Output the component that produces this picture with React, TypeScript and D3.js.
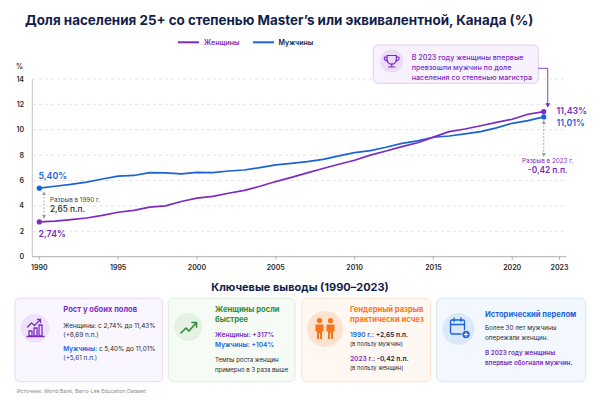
import React from "react";
import * as d3 from "d3";

const years = d3.range(1990, 2023);
const women = [2.74, 2.8, 2.92, 3.05, 3.25, 3.5, 3.65, 3.9, 4.0, 4.35, 4.62, 4.75, 5.0, 5.22, 5.55, 5.92, 6.25, 6.6, 6.95, 7.28, 7.6, 8.0, 8.33, 8.67, 8.98, 9.42, 9.85, 10.06, 10.32, 10.58, 10.83, 11.22, 11.43];
const men = [5.4, 5.55, 5.7, 5.88, 6.12, 6.35, 6.4, 6.62, 6.6, 6.52, 6.65, 6.62, 6.75, 6.83, 7.02, 7.23, 7.36, 7.49, 7.67, 7.94, 8.2, 8.36, 8.62, 8.93, 9.12, 9.41, 9.51, 9.67, 9.85, 10.15, 10.51, 10.72, 11.01];
const xTicks = [1990, 1995, 2000, 2005, 2010, 2015, 2020, 2023];
const yTicks = [0, 2, 4, 6, 8, 10, 12, 14];
const seriesNames = ["Женщины", "Мужчины"];

const PURPLE = "#7b2cbf";
const BLUE = "#1a63d8";
const NAVY = "#141e4a";
const GREEN = "#2f8a3c";
const ORANGE = "#f5761a";
const FONT = "Inter, 'Noto Sans', sans-serif";

export default function App() {
  const x = d3.scaleLinear().domain([1990, 2023]).range([39.3, 559.5]);
  const y = d3.scaleLinear().domain([0, 14]).range([256.7, 79]);
  const line = d3
    .line<number>()
    .x((_, i) => x(years[i]))
    .y((d) => y(d));

  const last = years.length - 1;
  const xl = x(years[last]);
  const yw = y(women[last]);
  const ym = y(men[last]);
  const x0 = x(years[0]);
  const yw0 = y(women[0]);
  const ym0 = y(men[0]);

  return (
    <div style={{ position: "absolute", left: 0, top: 0 }}>
      <svg width={600} height={400} style={{ display: "block", fontFamily: FONT }}>
        <defs>
          <marker id="arrP" viewBox="0 0 10 10" refX="5" refY="5" markerWidth="5" markerHeight="5" orient="auto">
            <path d="M0,0 L10,5 L0,10 z" fill={PURPLE} />
          </marker>
          <marker id="arrG" viewBox="0 0 10 10" refX="5" refY="5" markerWidth="5" markerHeight="5" orient="auto-start-reverse">
            <path d="M0,0 L10,5 L0,10 z" fill="#9a9a9a" />
          </marker>
        </defs>
        <rect width={600} height={400} fill="#ffffff" />
        {/* Title */}
        <text x={25} y={24.5} fontSize={13.4} fontWeight={700} fill={NAVY}>
          Доля населения 25+ со степенью Master’s или эквивалентной, Канада (%)
        </text>
        {/* Legend */}
        <line x1={178} x2={199} y1={42.3} y2={42.3} stroke={PURPLE} strokeWidth={2} />
        <text x={204} y={44.8} fontSize={7} fontWeight={600} fill={PURPLE}>{seriesNames[0]}</text>
        <line x1={253} x2={274} y1={42.3} y2={42.3} stroke={BLUE} strokeWidth={2} />
        <text x={278.5} y={44.8} fontSize={7} fontWeight={600} fill={NAVY}>{seriesNames[1]}</text>

        {/* Grid */}
        {yTicks.map((t) => (
          <g key={t}>
            {t > 0 && (
              <line x1={33} x2={566} y1={y(t)} y2={y(t)} stroke="#dedede" strokeWidth={0.8} strokeDasharray="3,3" />
            )}
            <text x={24} y={y(t) + 2.5} fontSize={7} fontWeight={600} fill="#2a2a2a" textAnchor="end">{t}</text>
          </g>
        ))}
        <text x={16} y={69} fontSize={7} fontWeight={600} fill="#2a2a2a">%</text>
        <line x1={32.3} x2={32.3} y1={y(14)} y2={y(0)} stroke="#b5b5b5" strokeWidth={0.8} />
        <line x1={32.3} x2={566.5} y1={y(0)} y2={y(0)} stroke="#9a9a9a" strokeWidth={0.8} />
        {xTicks.map((t) => (
          <g key={t}>
            <line x1={x(t)} x2={x(t)} y1={y(0)} y2={y(0) + 3} stroke="#9a9a9a" strokeWidth={0.8} />
            <text x={x(t)} y={269.5} fontSize={7} fontWeight={600} fill="#2a2a2a" textAnchor="middle">{t}</text>
          </g>
        ))}

        {/* Lines */}
        <path d={line(men) || ""} fill="none" stroke={BLUE} strokeWidth={1.7} strokeLinejoin="round" />
        <path d={line(women) || ""} fill="none" stroke={PURPLE} strokeWidth={1.7} strokeLinejoin="round" />
        <circle cx={x0} cy={ym0} r={2.6} fill={BLUE} />
        <circle cx={x0} cy={yw0} r={2.6} fill={PURPLE} />
        <circle cx={xl} cy={ym} r={2.6} fill={BLUE} />
        <circle cx={xl} cy={yw} r={2.6} fill={PURPLE} />

        {/* 1990 labels */}
        <text x={38.5} y={178.5} fontSize={8.8} fontWeight={600} fill={BLUE}>5,40%</text>
        <text x={38.5} y={237} fontSize={8.8} fontWeight={600} fill={PURPLE}>2,74%</text>
        <line x1={44} x2={44} y1={ym0 + 5} y2={yw0 - 5} stroke="#9a9a9a" strokeWidth={0.8} strokeDasharray="2,1.5" markerStart="url(#arrG)" markerEnd="url(#arrG)" />
        <text x={50} y={201.5} fontSize={6.3} fill="#444">Разрыв в 1990 г.</text>
        <text x={50} y={212} fontSize={8.3} fontWeight={500} fill="#2a2a2a">2,65 п.п.</text>

        {/* 2023 labels */}
        <text x={556.5} y={114.3} fontSize={8.8} fontWeight={600} fill={PURPLE}>11,43%</text>
        <text x={556.5} y={125.5} fontSize={8.8} fontWeight={600} fill={BLUE}>11,01%</text>
        <line x1={xl} x2={xl} y1={ym + 5} y2={155} stroke="#9a9a9a" strokeWidth={0.8} strokeDasharray="2,1.5" markerStart="url(#arrG)" markerEnd="url(#arrG)" />
        <text x={xl + 4} y={163.3} fontSize={6.3} fill={PURPLE} textAnchor="middle">Разрыв в 2023 г.</text>
        <text x={xl + 4} y={173} fontSize={8.3} fontWeight={600} fill={PURPLE} textAnchor="middle">-0,42 п.п.</text>

        {/* Annotation box */}
        <rect x={373.3} y={45} width={165} height={38.3} rx={4.5} fill="#f7f2fd" stroke="#dcc9f3" strokeWidth={0.9} />
        <circle cx={391.7} cy={61} r={11.5} fill="#ebdcfa" />
        <g fill="none" stroke={PURPLE} strokeWidth={1.2} strokeLinecap="round" strokeLinejoin="round">
          <path d="M387,55.5 h9.4 v4 a4.7,4.7 0 0 1 -9.4,0 z" />
          <path d="M387,57 h-2.2 a2.2,2.2 0 0 0 2.6,3.4" />
          <path d="M396.4,57 h2.2 a2.2,2.2 0 0 1 -2.6,3.4" />
          <path d="M391.7,64.2 v2.3 M388.6,67 h6.2" />
        </g>
        <text fontSize={7.2} fontWeight={500} fill={PURPLE}>
          <tspan x={411.7} y={59.5}>В 2023 году женщины впервые</tspan>
          <tspan x={411.7} y={69.8}>превзошли мужчин по доле</tspan>
          <tspan x={411.7} y={80.1}>населения со степенью магистра</tspan>
        </text>
        <path d={`M538.3,68.3 H${xl + 4} V${yw - 6}`} fill="none" stroke={PURPLE} strokeWidth={0.9} markerEnd="url(#arrP)" />

        {/* Key findings */}
        <text x={300} y={291} fontSize={11} fontWeight={700} fill={NAVY} textAnchor="middle">Ключевые выводы (1990–2023)</text>

        {/* Card 1 */}
        <rect x={15} y={298.3} width={147.7} height={83.4} rx={5} fill="#faf6ff" stroke="#e3d4f7" strokeWidth={0.9} />
        <circle cx={35} cy={328.3} r={14.3} fill="#eee2fb" />
        <g fill="none" stroke={PURPLE} strokeWidth={1.3} strokeLinejoin="round" strokeLinecap="round">
          <rect x={29} y={331} width={3} height={5} />
          <rect x={34} y={328} width={3} height={8} />
          <rect x={39} y={325} width={3} height={11} />
          <path d="M27,336.5 h17" />
          <path d="M27.5,327 l4,-4 l3,2.5 l6,-6" />
          <path d="M37.5,319.5 h3 v3" />
        </g>
        <text x={63.3} y={312} fontSize={7.6} fontWeight={700} fill={PURPLE}>Рост у обоих полов</text>
        <text x={63.3} y={327.7} fontSize={6.4} fill="#2a2a2a">Женщины: с 2,74% до 11,43%</text>
        <text x={63.3} y={337} fontSize={6.4} fill="#2a2a2a">(+8,69 п.п.)</text>
        <text x={63.3} y={350.5} fontSize={6.4} fill="#2a2a2a"><tspan fill={BLUE} fontWeight={600}>Мужчины:</tspan> с 5,40% до 11,01%</text>
        <text x={63.3} y={360} fontSize={6.4} fill="#1e3a70">(+5,61 п.п.)</text>

        {/* Card 2 */}
        <rect x={168.3} y={298.3} width={126.7} height={83.4} rx={5} fill="#f7fbf6" stroke="#d6ebd5" strokeWidth={0.9} />
        <circle cx={188.3} cy={327} r={14} fill="#e4f1e3" />
        <g fill="none" stroke={GREEN} strokeWidth={1.6} strokeLinejoin="round" strokeLinecap="round">
          <path d="M181,333 l5,-5 l3,3 l7,-8" />
          <path d="M192,322.5 h4.5 v4.5" />
        </g>
        <text fontSize={7.6} fontWeight={700} fill={GREEN}>
          <tspan x={215} y={311.7}>Женщины росли</tspan>
          <tspan x={215} y={321.9}>быстрее</tspan>
        </text>
        <text x={215} y={336.7} fontSize={6.6} fontWeight={600} fill={PURPLE}>Женщины: +317%</text>
        <text x={215} y={346.7} fontSize={6.6} fontWeight={600} fill={BLUE}>Мужчины: +104%</text>
        <text x={215} y={361.7} fontSize={6} fill="#2a2a2a">Темпы роста женщин</text>
        <text x={215} y={371.7} fontSize={6} fill="#2a2a2a">примерно в 3 раза выше</text>

        {/* Card 3 */}
        <rect x={301.7} y={298.3} width={129} height={83.4} rx={5} fill="#fff8f2" stroke="#fbdfc8" strokeWidth={0.9} />
        <circle cx={325} cy={329} r={18} fill="#fde3cf" />
        <g fill={ORANGE}>
          <circle cx={319.5} cy={320.5} r={2.6} />
          <circle cx={330.5} cy={320.5} r={2.6} />
          <path d="M315.5,324.5 h8 v7 h-1.5 v7.5 h-2 v-6 h-1 v6 h-2 v-7.5 h-1.5 z" />
          <path d="M326.5,324.5 h8 v7 h-1.5 v7.5 h-2 v-6 h-1 v6 h-2 v-7.5 h-1.5 z" />
        </g>
        <text fontSize={7.6} fontWeight={700} fill={ORANGE}>
          <tspan x={350} y={311.7}>Гендерный разрыв</tspan>
          <tspan x={350} y={321.9}>практически исчез</tspan>
        </text>
        <text x={350} y={336.7} fontSize={6.6} fontWeight={600} fill={NAVY}><tspan fill={BLUE}>1990 г.:</tspan> +2,65 п.п.</text>
        <text x={350} y={345.9} fontSize={5.8} fill="#2a2a2a">(в пользу мужчин)</text>
        <text x={350} y={361} fontSize={6.6} fontWeight={600} fill={NAVY}><tspan fill={PURPLE}>2023 г.:</tspan> -0,42 п.п.</text>
        <text x={350} y={370.2} fontSize={5.8} fill="#2a2a2a">(в пользу женщин)</text>

        {/* Card 4 */}
        <rect x={436.7} y={298.3} width={149} height={83.4} rx={5} fill="#f3f8fe" stroke="#cfe0f7" strokeWidth={0.9} />
        <circle cx={458.3} cy={329} r={16} fill="#dbe8fa" />
        <g fill="none" stroke={BLUE} strokeWidth={1.3} strokeLinejoin="round" strokeLinecap="round">
          <rect x={450.5} y={320} width={14} height={14} rx={1.5} />
          <path d="M450.5,324.5 h14" />
          <path d="M454,318 v3.5 M461,318 v3.5" />
        </g>
        <circle cx={466} cy={334.5} r={4.2} fill={BLUE} stroke="#dbe8fa" strokeWidth={1} />
        <path d="M466,332.3 v4.4 M463.8,334.5 h4.4" stroke="#ffffff" strokeWidth={1.1} />
        <text x={485} y={316.7} fontSize={7.6} fontWeight={700} fill={BLUE}>Исторический перелом</text>
        <text x={485} y={330} fontSize={6.3} fill="#2a2a2a">Более 30 лет мужчины</text>
        <text x={485} y={339.5} fontSize={6.3} fill="#2a2a2a">опережали женщин.</text>
        <text x={485} y={355} fontSize={6.3} fontWeight={600} fill={PURPLE}>В 2023 году женщины</text>
        <text x={485} y={365} fontSize={6.3} fontWeight={600} fill={PURPLE}>впервые обогнали мужчин.</text>

        {/* Source */}
        <text x={16.7} y={392.5} fontSize={5.2} fill="#8a8a8a">Источник: World Bank, Barro-Lee Education Dataset</text>
      </svg>
    </div>
  );
}
